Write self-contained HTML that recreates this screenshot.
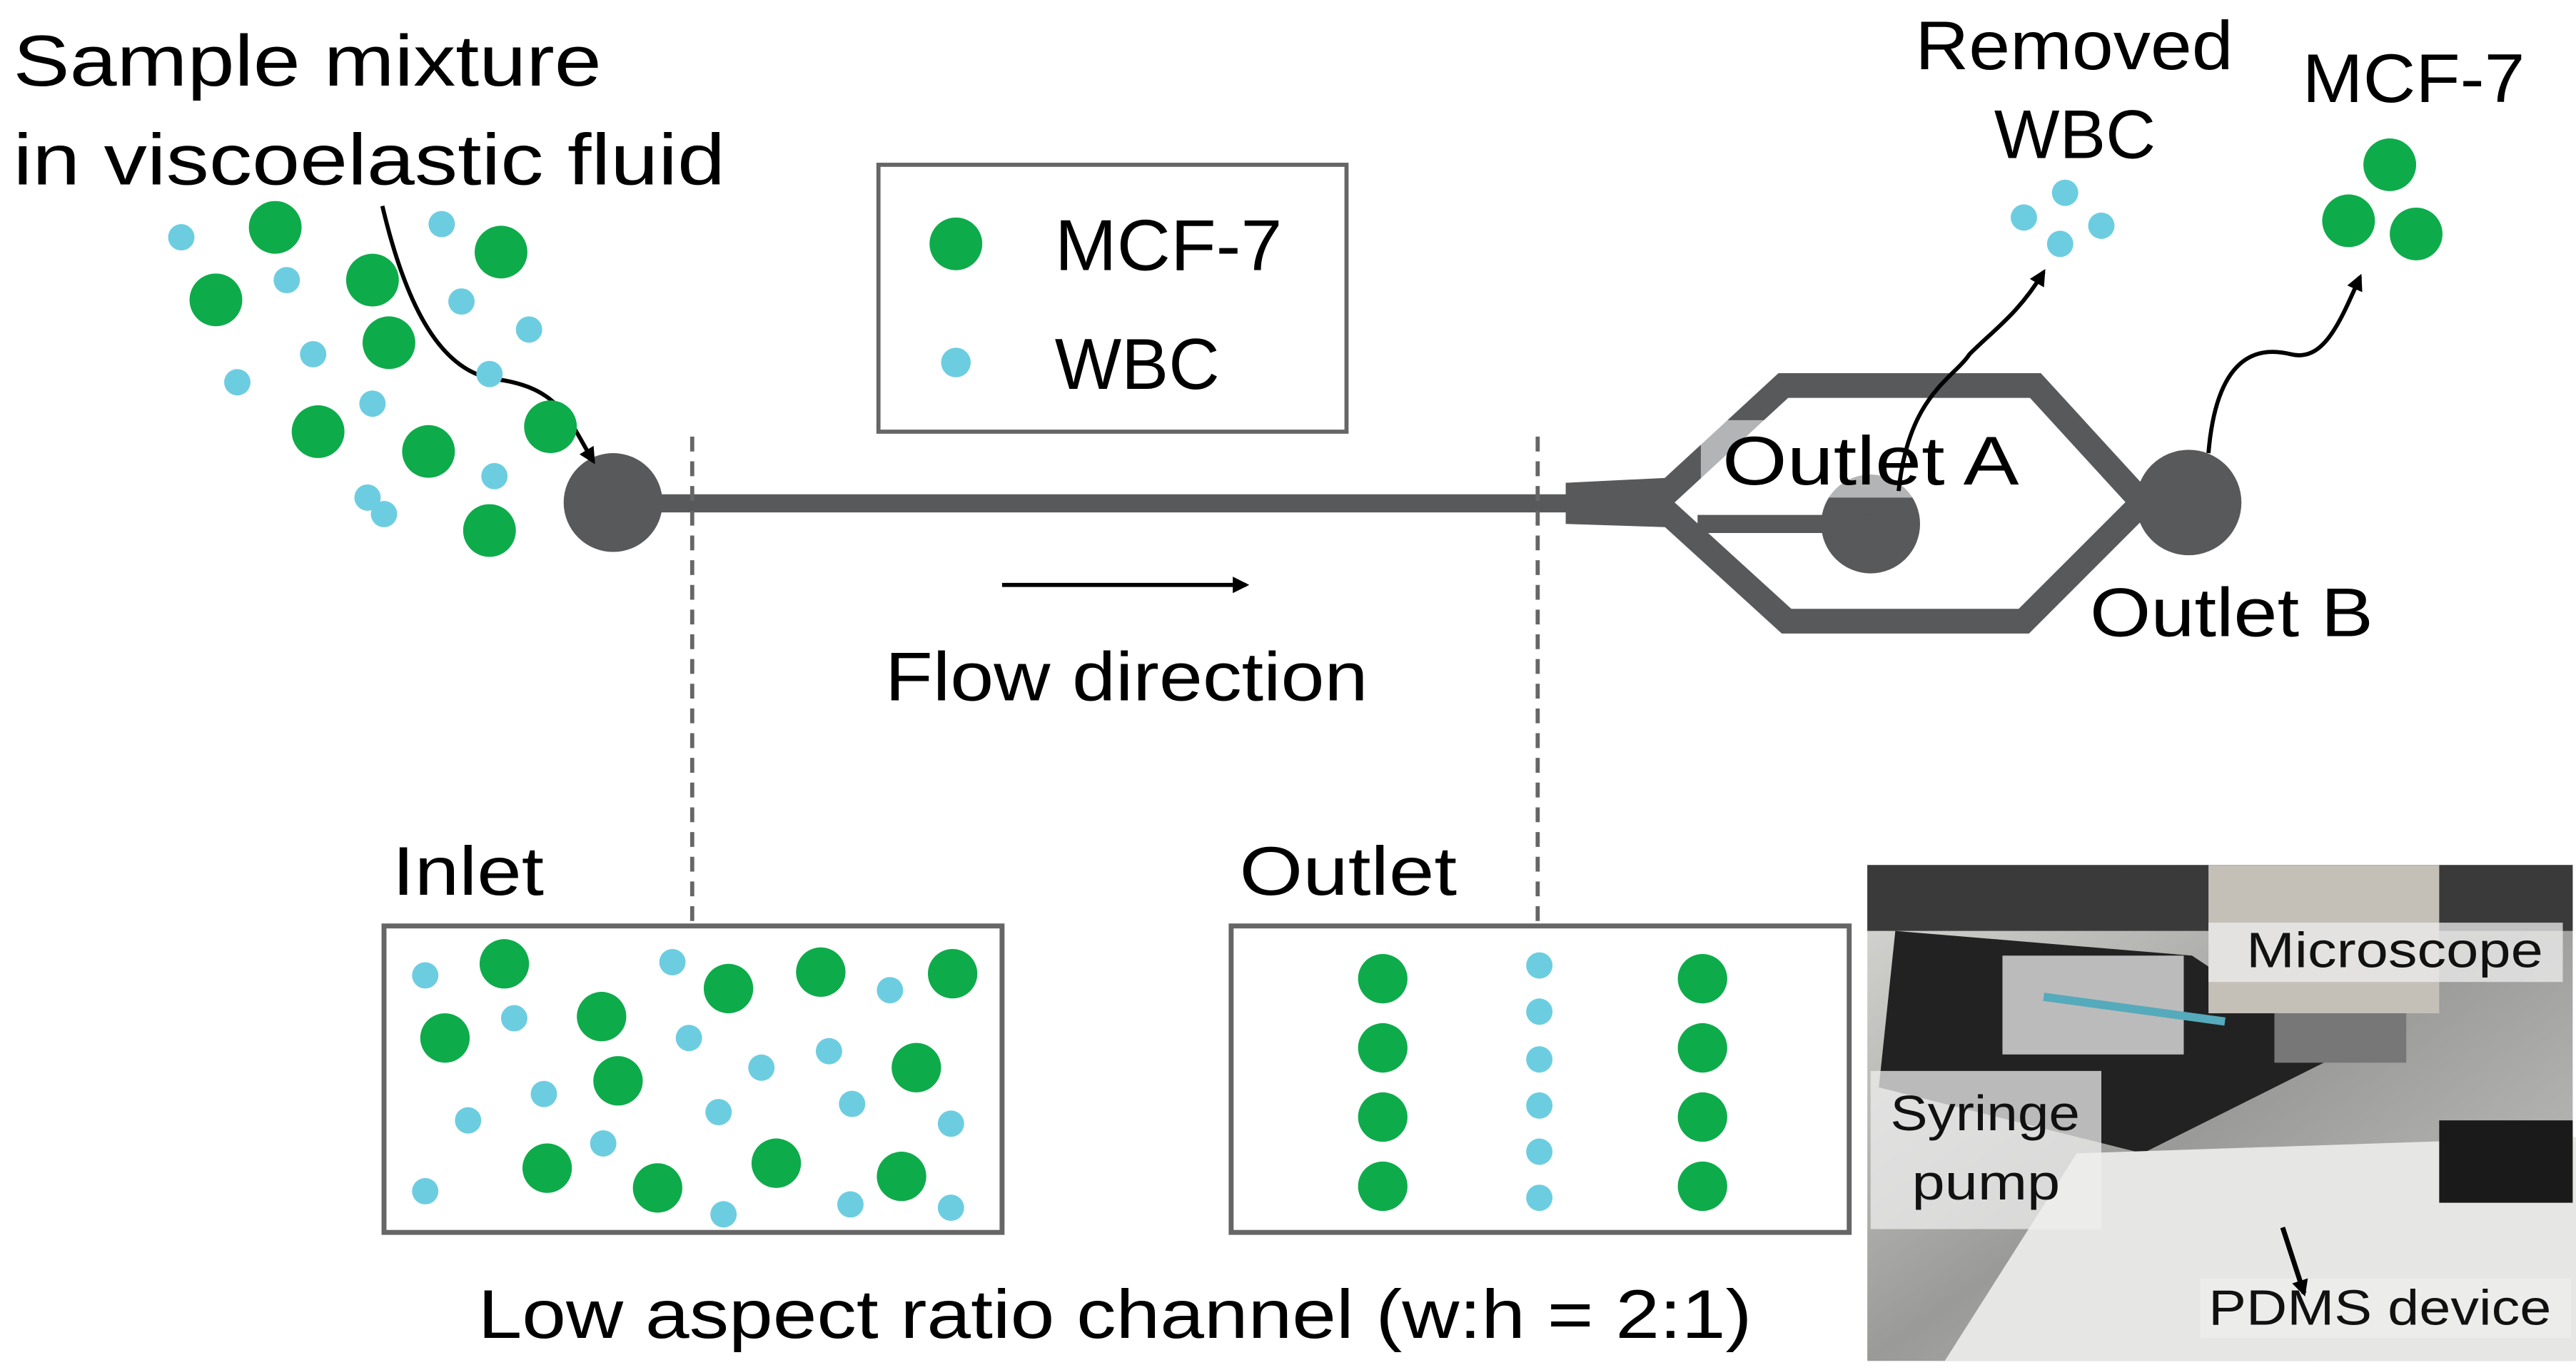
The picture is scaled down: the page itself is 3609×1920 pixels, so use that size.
<!DOCTYPE html>
<html><head><meta charset="utf-8"><style>html,body{margin:0;padding:0;background:#fff}svg{display:block}</style></head>
<body>
<svg width="3609" height="1920" viewBox="0 0 1563 831.5" xmlns="http://www.w3.org/2000/svg" font-family="Liberation Sans, sans-serif">
<defs>
<marker id="ah" markerWidth="10" markerHeight="10" refX="8" refY="5" orient="auto" markerUnits="userSpaceOnUse"><path d="M0,0 L10,5 L0,10 z" fill="#000"/></marker>
<linearGradient id="ph" x1="0" y1="0" x2="1" y2="1"><stop offset="0" stop-color="#d9d9d6"/><stop offset="0.5" stop-color="#9a9a98"/><stop offset="1" stop-color="#c8c8c6"/></linearGradient>
</defs>
<rect width="1563" height="831.5" fill="#fff"/>
<g fill="#000" font-size="44" lengthAdjust="spacingAndGlyphs">
<text x="8" y="52" textLength="357" lengthAdjust="spacingAndGlyphs">Sample mixture</text>
<text x="8" y="112" textLength="432" lengthAdjust="spacingAndGlyphs">in viscoelastic fluid</text>
<text x="1162" y="42" font-size="42" textLength="193" lengthAdjust="spacingAndGlyphs">Removed</text>
<text x="1210" y="96" font-size="42" textLength="98" lengthAdjust="spacingAndGlyphs">WBC</text>
<text x="1397" y="62" font-size="42" textLength="135" lengthAdjust="spacingAndGlyphs">MCF-7</text>
<text x="1268" y="386" font-size="42" textLength="172" lengthAdjust="spacingAndGlyphs">Outlet B</text>
<text x="537" y="425" font-size="42" textLength="293" lengthAdjust="spacingAndGlyphs">Flow direction</text>
<text x="238" y="543" font-size="42" textLength="92" lengthAdjust="spacingAndGlyphs">Inlet</text>
<text x="752" y="543" font-size="42" textLength="132" lengthAdjust="spacingAndGlyphs">Outlet</text>
<text x="290" y="812" font-size="42" textLength="773" lengthAdjust="spacingAndGlyphs">Low aspect ratio channel (w:h = 2:1)</text>
</g>
<!-- legend -->
<rect x="533" y="100" width="284" height="162" fill="#fff" stroke="#666" stroke-width="2.5"/>
<circle cx="580" cy="148" r="16" fill="#0eab4b"/><text x="640" y="164" font-size="44" textLength="138" lengthAdjust="spacingAndGlyphs">MCF-7</text>
<circle cx="580" cy="220" r="9" fill="#6dcde0"/><text x="640" y="236" font-size="44" textLength="100" lengthAdjust="spacingAndGlyphs">WBC</text>
<!-- device -->
<g fill="#58595b" stroke="#58595b">
<circle cx="372" cy="305" r="30" stroke="none"/>
<rect x="395" y="300" width="560" height="11" stroke="none"/>
<path d="M950,293 L1012,290 L1012,320 L950,318 z" stroke="none"/>
<circle cx="1135" cy="318" r="30" stroke="none"/>
<circle cx="1328" cy="305" r="32" stroke="none"/>
<rect x="1290" y="300" width="12" height="11" stroke="none"/>
</g>
<g fill="none" stroke="#58595b" stroke-width="15" stroke-linejoin="miter">
<path d="M1005,305 L1082,234 L1235,234 L1300,305 L1228,377 L1084,377 L1005,305"/>
<path d="M1030,318 L1135,318" stroke-width="11"/>
</g>
<rect x="1032" y="255" width="206" height="47" fill="#fff" opacity="0.55"/>
<text x="1045" y="294" font-size="42" textLength="180" lengthAdjust="spacingAndGlyphs">Outlet A</text>
<!-- dashed -->
<g stroke="#666" stroke-width="2.5" stroke-dasharray="9,6"><line x1="420" y1="265" x2="420" y2="562"/><line x1="933" y1="265" x2="933" y2="562"/></g>
<line x1="608" y1="355" x2="756" y2="355" stroke="#000" stroke-width="2.5" marker-end="url(#ah)"/>
<!-- wavy arrows -->
<g fill="none" stroke="#000" stroke-width="2.5">
<path d="M232,125 C245,180 265,225 300,230 C340,235 345,255 360,280" marker-end="url(#ah)"/>
<path d="M1152,298 C1158,240 1185,230 1195,215 C1210,200 1225,190 1240,165" marker-end="url(#ah)"/>
<path d="M1340,275 C1345,215 1370,210 1390,215 C1410,220 1420,195 1432,168" marker-end="url(#ah)"/>
</g>
<!-- sample dots -->
<g fill="#0eab4b">
<circle cx="167" cy="138" r="16"/><circle cx="131" cy="182" r="16"/><circle cx="226" cy="170" r="16"/><circle cx="304" cy="153" r="16"/><circle cx="236" cy="208" r="16"/><circle cx="193" cy="262" r="16"/><circle cx="260" cy="274" r="16"/><circle cx="334" cy="259" r="16"/><circle cx="297" cy="322" r="16"/>
<circle cx="1450" cy="100" r="16"/><circle cx="1425" cy="134" r="16"/><circle cx="1466" cy="142" r="16"/>
</g>
<g fill="#6dcde0">
<circle cx="110" cy="144" r="8"/><circle cx="174" cy="170" r="8"/><circle cx="268" cy="136" r="8"/><circle cx="280" cy="183" r="8"/><circle cx="321" cy="200" r="8"/><circle cx="190" cy="215" r="8"/><circle cx="144" cy="232" r="8"/><circle cx="297" cy="227" r="8"/><circle cx="226" cy="245" r="8"/><circle cx="300" cy="289" r="8"/><circle cx="223" cy="302" r="8"/><circle cx="233" cy="312" r="8"/>
<circle cx="1228" cy="132" r="8"/><circle cx="1253" cy="117" r="8"/><circle cx="1275" cy="137" r="8"/><circle cx="1250" cy="148" r="8"/>
</g>
<!-- inlet box -->
<rect x="233" y="562" width="375" height="186" fill="#fff" stroke="#666" stroke-width="3"/>
<g fill="#0eab4b">
<circle cx="306" cy="585" r="15"/><circle cx="270" cy="630" r="15"/><circle cx="365" cy="617" r="15"/><circle cx="375" cy="656" r="15"/><circle cx="442" cy="600" r="15"/><circle cx="498" cy="590" r="15"/><circle cx="578" cy="591" r="15"/><circle cx="556" cy="648" r="15"/><circle cx="332" cy="709" r="15"/><circle cx="399" cy="721" r="15"/><circle cx="471" cy="706" r="15"/><circle cx="547" cy="714" r="15"/>
</g>
<g fill="#6dcde0">
<circle cx="258" cy="592" r="8"/><circle cx="312" cy="618" r="8"/><circle cx="408" cy="584" r="8"/><circle cx="418" cy="630" r="8"/><circle cx="540" cy="601" r="8"/><circle cx="462" cy="648" r="8"/><circle cx="503" cy="638" r="8"/><circle cx="330" cy="664" r="8"/><circle cx="284" cy="680" r="8"/><circle cx="436" cy="675" r="8"/><circle cx="517" cy="670" r="8"/><circle cx="577" cy="682" r="8"/><circle cx="366" cy="694" r="8"/><circle cx="258" cy="723" r="8"/><circle cx="439" cy="737" r="8"/><circle cx="516" cy="731" r="8"/><circle cx="577" cy="733" r="8"/>
</g>
<!-- outlet box -->
<rect x="747" y="562" width="375" height="186" fill="#fff" stroke="#666" stroke-width="3"/>
<g fill="#0eab4b">
<circle cx="839" cy="594" r="15"/><circle cx="839" cy="636" r="15"/><circle cx="839" cy="678" r="15"/><circle cx="839" cy="720" r="15"/>
<circle cx="1033" cy="594" r="15"/><circle cx="1033" cy="636" r="15"/><circle cx="1033" cy="678" r="15"/><circle cx="1033" cy="720" r="15"/>
</g>
<g fill="#6dcde0">
<circle cx="934" cy="586" r="8"/><circle cx="934" cy="614" r="8"/><circle cx="934" cy="643" r="8"/><circle cx="934" cy="671" r="8"/><circle cx="934" cy="699" r="8"/><circle cx="934" cy="727" r="8"/>
</g>
<!-- photo -->
<rect x="1133" y="525" width="428" height="301" fill="url(#ph)"/>
<rect x="1133" y="525" width="428" height="40" fill="#3a3a3a"/>
<path d="M1150,565 L1330,580 L1420,640 L1300,700 L1140,660 z" fill="#222"/>
<rect x="1215" y="580" width="110" height="60" fill="#bbb"/>
<rect x="1340" y="525" width="140" height="90" fill="#c4c0b8"/>
<rect x="1380" y="615" width="80" height="30" fill="#777"/>
<path d="M1260,700 L1563,690 L1563,826 L1180,826 z" fill="#e6e6e4"/>
<rect x="1480" y="680" width="81" height="50" fill="#1a1a1a"/>
<line x1="1240" y1="605" x2="1350" y2="620" stroke="#5ab" stroke-width="5"/>
<rect x="1135" y="650" width="140" height="96" fill="#eee" opacity="0.75"/>
<rect x="1340" y="560" width="215" height="36" fill="#eee" opacity="0.75"/>
<rect x="1335" y="776" width="225" height="36" fill="#eee" opacity="0.75"/>
<g font-size="30" fill="#111">
<text x="1363" y="587" textLength="180" lengthAdjust="spacingAndGlyphs">Microscope</text>
<text x="1147" y="686" textLength="115" lengthAdjust="spacingAndGlyphs">Syringe</text>
<text x="1160" y="728" textLength="90" lengthAdjust="spacingAndGlyphs">pump</text>
<text x="1340" y="804" textLength="208" lengthAdjust="spacingAndGlyphs">PDMS device</text>
</g>
<line x1="1385" y1="745" x2="1398" y2="785" stroke="#000" stroke-width="3" marker-end="url(#ah)"/>
</svg>
</body></html>
